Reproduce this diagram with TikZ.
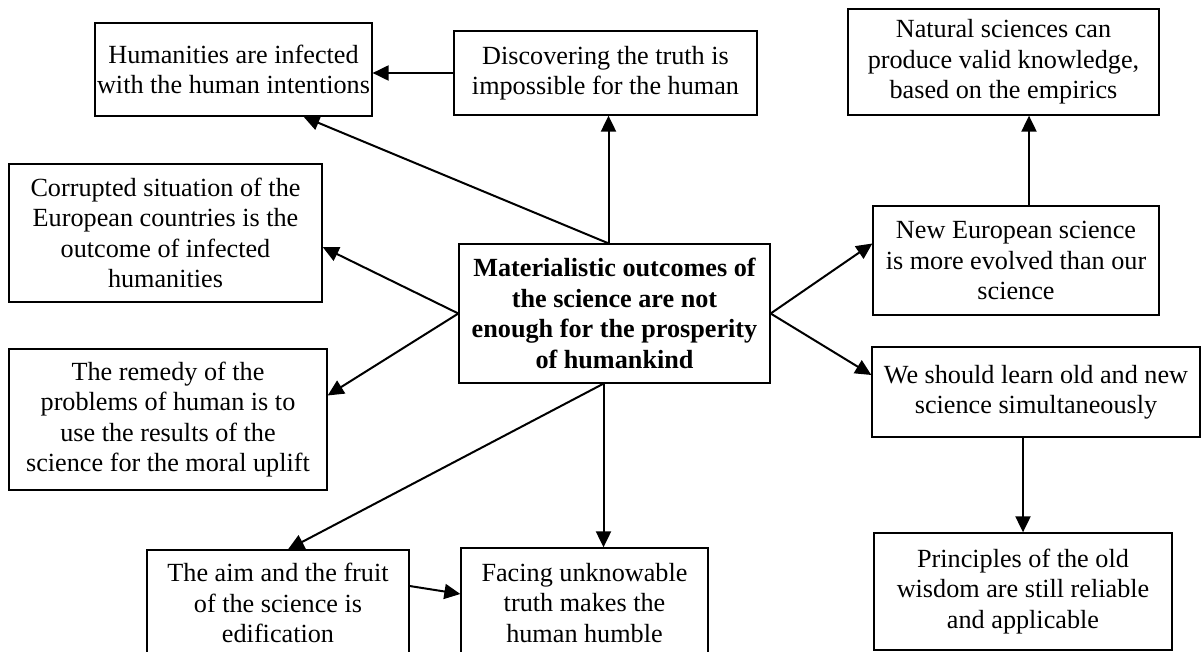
\documentclass[tikz,border=0pt]{standalone}
\usepackage{fontspec}
\setmainfont{Liberation Serif}
\usetikzlibrary{arrows.meta}

\begin{document}
\begin{tikzpicture}[x=1pt,y=-1pt,every node/.style={draw,rectangle,line width=1.3pt,align=center,inner sep=2pt,font=\fontsize{26.2}{30.5}\selectfont},link/.style={line width=2pt,-{Triangle[length=16pt,width=15pt]}}]
\useasboundingbox (0,0) rectangle (1201,652);
  \node[minimum width=311pt,minimum height=139pt,font=\fontsize{26.2}{30.5}\selectfont\bfseries] (main) at (614.5,313.5) {Materialistic outcomes of\\the science are not\\enough for the prosperity\\of humankind};
  \node[minimum width=275pt,minimum height=93pt] (hum) at (233.5,69.5) {Humanities are infected\\with the human intentions};
  \node[minimum width=303pt,minimum height=84pt] (disc) at (605.5,73) {Discovering the truth is\\impossible for the human};
  \node[minimum width=311pt,minimum height=106pt] (nat) at (1003.5,62) {Natural sciences can\\produce valid knowledge,\\based on the empirics};
  \node[minimum width=286pt,minimum height=109pt] (neweu) at (1016,260.5) {New European science\\is more evolved than our\\science};
  \node[minimum width=328pt,minimum height=90pt] (learn) at (1036,392) {We should learn old and new\\science simultaneously};
  \node[minimum width=298pt,minimum height=117pt] (princ) at (1023,591.5) {Principles of the old\\wisdom are still reliable\\and applicable};
  \node[minimum width=313pt,minimum height=138pt] (corr) at (165.5,233) {Corrupted situation of the\\European countries is the\\outcome of infected\\humanities};
  \node[minimum width=318pt,minimum height=141pt] (rem) at (168,419.5) {The remedy of the\\problems of human is to\\use the results of the\\science for the moral uplift};
  \node[minimum width=262pt,minimum height=106pt] (aim) at (278,603) {The aim and the fruit\\of the science is\\edification};
  \node[minimum width=247pt,minimum height=110pt] (face) at (584.5,603) {Facing unknowable\\truth makes the\\human humble};
  \coordinate (mt) at ([xshift=-6pt]main.north);
  \coordinate (mb) at ([xshift=-11pt]main.south);
  \coordinate (nt) at ([xshift=13pt]neweu.north);
  \draw[link](mt)--(mt |- disc.south);
  \draw[link](mt)--([xshift=70pt]hum.south);
  \draw[link](disc.west)--(hum.east |- disc.west);
  \draw[link](main.west)--([yshift=-14pt]corr.east);
  \draw[link](main.west)--([yshift=24pt]rem.east);
  \draw[link](main.east)--([yshift=17pt]neweu.west);
  \draw[link](main.east)--([yshift=17pt]learn.west);
  \draw[link](nt)--(nt |- nat.south);
  \draw[link](learn.south -| princ.north)--(princ.north);
  \draw[link](mb)--(mb |- face.north);
  \draw[link](mb)--([xshift=10pt]aim.north);
  \draw[link]([yshift=17pt]aim.east)--([yshift=9pt]face.west);
\end{tikzpicture}
\end{document}
